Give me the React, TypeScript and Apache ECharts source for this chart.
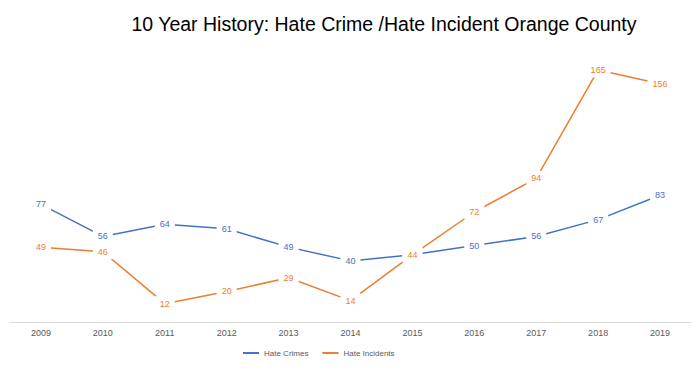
import React, { useEffect, useRef } from "react";
import * as echarts from "echarts";

const years = ["2009", "2010", "2011", "2012", "2013", "2014", "2015", "2016", "2017", "2018", "2019"];
const hateCrimes = [77, 56, 64, 61, 49, 40, 44, 50, 56, 67, 83];
const hateIncidents = [49, 46, 12, 20, 29, 14, 44, 72, 94, 165, 156];

const BLUE = "#4472C4";
const ORANGE = "#ED7D31";

export default function App() {
  const ref = useRef<HTMLDivElement>(null);
  useEffect(() => {
    if (!ref.current) return;
    const chart = echarts.init(ref.current, undefined, { renderer: "svg" });
    const mkLabel = (color: string) => ({
      show: true,
      position: "inside",
      color,
      fontSize: 9,
      fontFamily: "Liberation Sans",
      backgroundColor: "#ffffff",
      padding: [3, 5],
    });
    chart.setOption({
      animation: false,
      backgroundColor: "#ffffff",
      title: {
        text: "10 Year History: Hate Crime /Hate Incident Orange County",
        left: 379,
        textAlign: "center",
        top: 9,
        textStyle: { fontSize: 19.5, fontWeight: "normal", color: "#000000", fontFamily: "Liberation Sans" },
      },
      legend: {
        left: 238,
        top: 344,
        itemWidth: 16,
        itemHeight: 2,
        itemGap: 14,
        icon: "rect",
        textStyle: { fontSize: 8, color: "#595959", fontFamily: "Liberation Sans" },
        data: ["Hate Crimes", "Hate Incidents"],
      },
      grid: { left: 10, right: 9, top: 47, bottom: 46 },
      xAxis: {
        type: "category",
        data: years,
        boundaryGap: true,
        axisLine: { lineStyle: { color: "#d9d9d9" } },
        axisTick: { show: false },
        axisLabel: { color: "#595959", fontSize: 9, margin: 6, fontFamily: "Liberation Sans" },
      },
      yAxis: {
        type: "value",
        min: 0,
        max: 180,
        show: false,
        splitLine: { show: false },
      },
      series: [
        {
          name: "Hate Crimes",
          type: "line",
          data: hateCrimes,
          symbol: "circle",
          symbolSize: 0,
          lineStyle: { color: BLUE, width: 1.5 },
          itemStyle: { color: BLUE },
          label: mkLabel(BLUE),
        },
        {
          name: "Hate Incidents",
          type: "line",
          data: hateIncidents,
          symbol: "circle",
          symbolSize: 0,
          lineStyle: { color: ORANGE, width: 1.5 },
          itemStyle: { color: ORANGE },
          label: mkLabel(ORANGE),
        },
      ],
    });
    return () => chart.dispose();
  }, []);
  return <div ref={ref} style={{ width: 700, height: 368, position: "absolute", left: 0, top: 0 }} />;
}
